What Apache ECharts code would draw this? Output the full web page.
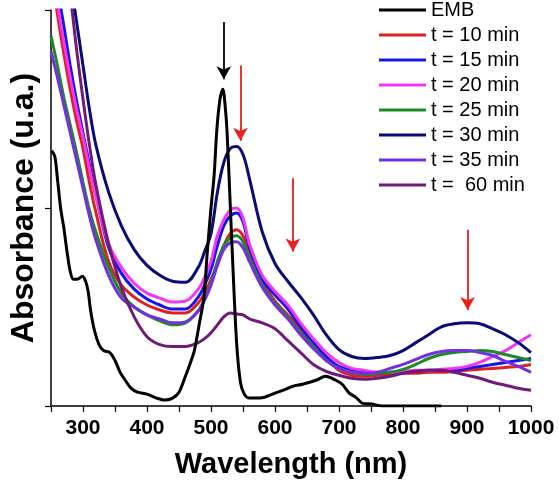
<!DOCTYPE html>
<html>
<head>
<meta charset="utf-8">
<script src="https://cdn.jsdelivr.net/npm/echarts@6/dist/echarts.min.js"></script>
<style>html,body{margin:0;padding:0;background:#fff;}#c{width:559px;height:490px;}</style>
</head>
<body>
<div id="c"></div>
<script>
// EMB spectrum (own wavelength grid)
const embWavelengths = [251,256,260,265,270,275,280,285,291,299,304,308,312,318,325,332,342,350,358,366,375,385,400,415,428,440,450,460,468,474,482,489,494,500,505,509,514,518.5,522,525,530,534,540,546,552,560,577,600,613,628,643,664,679,695,705,716,726,736,751,767,800,860];
const embValues = [1.29,1.26,1.15,1.0,0.9,0.78,0.68,0.64,0.64,0.655,0.63,0.58,0.48,0.38,0.31,0.28,0.27,0.23,0.17,0.13,0.09,0.07,0.06,0.04,0.03,0.04,0.07,0.15,0.22,0.28,0.42,0.55,0.77,1.0,1.17,1.39,1.55,1.60,1.52,1.39,1.02,0.72,0.32,0.12,0.06,0.04,0.04,0.065,0.08,0.10,0.11,0.13,0.15,0.13,0.11,0.065,0.045,0.015,0.01,0.0,0.0,0.0];

// Shared wavelength grid for the time series
const wavelengths = [250,260,270,280,290,300,310,320,340,360,380,400,420,440,460,480,490,500,510,520,530,540,550,560,580,600,620,640,660,680,700,720,740,760,780,800,820,840,860,880,900,920,940,960,980,1000];
const t10 = [2.2,1.98,1.78,1.6,1.44,1.30,1.13,0.98,0.73,0.61,0.55,0.51,0.485,0.47,0.47,0.52,0.57,0.64,0.72,0.81,0.87,0.89,0.86,0.78,0.63,0.53,0.46,0.39,0.31,0.24,0.18,0.155,0.15,0.155,0.16,0.165,0.165,0.17,0.17,0.175,0.18,0.185,0.19,0.195,0.20,0.21];
const t15 = [2.4,2.12,1.92,1.72,1.54,1.38,1.22,1.07,0.80,0.67,0.59,0.54,0.51,0.49,0.49,0.55,0.61,0.69,0.81,0.91,0.96,0.975,0.93,0.80,0.64,0.56,0.49,0.40,0.32,0.25,0.20,0.18,0.17,0.165,0.17,0.17,0.175,0.18,0.18,0.18,0.19,0.20,0.21,0.22,0.23,0.24];
const t20 = [2.3,2.04,1.84,1.66,1.50,1.36,1.20,1.06,0.82,0.70,0.62,0.57,0.545,0.525,0.53,0.59,0.65,0.73,0.86,0.94,0.99,1.0,0.95,0.82,0.66,0.58,0.51,0.42,0.34,0.27,0.22,0.19,0.18,0.17,0.17,0.175,0.18,0.18,0.185,0.19,0.20,0.22,0.25,0.28,0.32,0.36];
const t25 = [1.87,1.72,1.56,1.42,1.28,1.13,0.99,0.88,0.70,0.57,0.50,0.46,0.43,0.41,0.42,0.48,0.54,0.62,0.73,0.81,0.85,0.86,0.83,0.75,0.61,0.52,0.45,0.37,0.30,0.23,0.19,0.17,0.16,0.165,0.17,0.185,0.21,0.24,0.26,0.27,0.275,0.28,0.275,0.26,0.245,0.23];
const t30 = [2.6,2.45,2.3,2.15,1.94,1.72,1.50,1.32,1.08,0.91,0.79,0.71,0.66,0.63,0.625,0.70,0.78,0.87,1.08,1.23,1.30,1.31,1.27,1.15,0.88,0.72,0.63,0.55,0.46,0.36,0.285,0.25,0.24,0.245,0.255,0.28,0.32,0.36,0.40,0.415,0.42,0.415,0.39,0.36,0.32,0.27];
const t35 = [1.79,1.66,1.52,1.38,1.24,1.10,0.96,0.84,0.66,0.545,0.50,0.46,0.44,0.42,0.425,0.48,0.535,0.61,0.71,0.79,0.825,0.83,0.80,0.73,0.60,0.51,0.44,0.36,0.29,0.23,0.19,0.17,0.165,0.17,0.19,0.21,0.235,0.26,0.275,0.28,0.28,0.27,0.255,0.225,0.20,0.17];
const t60 = [2.6,2.4,2.3,2.08,1.80,1.55,1.32,1.12,0.82,0.60,0.45,0.35,0.31,0.30,0.30,0.32,0.34,0.37,0.41,0.45,0.47,0.465,0.46,0.44,0.42,0.39,0.33,0.27,0.21,0.175,0.155,0.14,0.135,0.14,0.15,0.165,0.175,0.18,0.18,0.17,0.155,0.14,0.12,0.105,0.09,0.08];

const seriesNames = ['EMB','t = 10 min','t = 15 min','t = 20 min','t = 25 min','t = 30 min','t = 35 min','t =  60 min'];
const seriesColors = ['#000000','#e0201e','#1515e6','#f536f0','#1d8a24','#0a0a78','#7430e0','#701a7a'];

// axes
const xMin = 250, xMax = 1000, xTickStep = 50;
const yMin = 0, yMax = 2, yTickStep = 1;

// annotation arrows (data units)
const arrowX = [520, 546, 628, 901];
const arrowTop = [1.94, 1.72, 1.15, 0.89];
const arrowBottom = [1.65, 1.34, 0.78, 0.485];
const arrowColors = ['#000000','#e82020','#e82020','#e82020'];

const FONT = "'Liberation Sans', Arial, sans-serif";
const pair = (xs, ys) => xs.map((x,i)=>[x, ys[i]]);

const timeData = [t10,t15,t20,t25,t30,t35,t60];
const series = [];
timeData.forEach((vals, i) => {
  series.push({
    name: seriesNames[i+1], type: 'line', data: pair(wavelengths, vals),
    smooth: 0.35, symbol: 'none', showSymbol: false, clip: true,
    lineStyle: {color: seriesColors[i+1], width: 3}, itemStyle: {color: seriesColors[i+1]}
  });
});
series.push({
  name: 'EMB', type: 'line', data: pair(embWavelengths, embValues),
  smooth: 0.3, symbol: 'none', showSymbol: false, clip: true,
  lineStyle: {color: '#000', width: 3}, itemStyle: {color: '#000'}
});
series.push({
  name: 'arrows', type: 'line', data: [], silent: true,
  markLine: {
    silent: true, animation: false, symbol: ['none','arrow'], symbolSize: [11, 13],
    label: {show: false},
    data: arrowX.map((x,i)=>[
      {coord:[x, arrowTop[i]], lineStyle:{color: arrowColors[i], width: 1.8, type:'solid'}},
      {coord:[x, arrowBottom[i]]}
    ])
  }
});

const chart = echarts.init(document.getElementById('c'), null, {renderer: 'canvas'});
chart.setOption({
  animation: false,
  backgroundColor: '#fff',
  grid: {left: 45, right: 28, top: 10, bottom: 84, containLabel: false},
  legend: {
    data: seriesNames, orient: 'vertical', left: 379, top: 0, padding: 0,
    itemWidth: 47, itemHeight: 14, itemGap: 5,
    textStyle: {fontFamily: FONT, fontSize: 20, color: '#000', lineHeight: 20},
    icon: 'path://M0,0 L47,0 L47,3 L0,3 Z'
  },
  xAxis: {
    type: 'value', min: xMin, max: xMax, interval: xTickStep,
    name: 'Wavelength (nm)', nameLocation: 'middle', nameGap: 44,
    nameTextStyle: {fontFamily: FONT, fontSize: 29, fontWeight: 'bold', color: '#000'},
    axisLine: {lineStyle: {color: '#000', width: 1.5}},
    axisTick: {inside: false, length: 6, lineStyle: {color: '#000', width: 1.2}},
    axisLabel: {margin: 12, fontFamily: FONT, fontSize: 21, fontWeight: 'bold', color: '#000',
      formatter: v => (v % 100 === 0 ? String(v) : '')},
    splitLine: {show: false}
  },
  yAxis: {
    type: 'value', min: yMin, max: yMax, interval: yTickStep,
    name: 'Absorbance (u.a.)', nameLocation: 'middle', nameGap: 11,
    nameTextStyle: {fontFamily: FONT, fontSize: 32, fontWeight: 'bold', color: '#000'},
    axisLine: {show: true, lineStyle: {color: '#000', width: 1.5}},
    axisTick: {show: true, inside: false, length: 6, lineStyle: {color: '#000', width: 1.2}},
    axisLabel: {show: false},
    splitLine: {show: false}
  },
  series: series
});
</script>
</body>
</html>
